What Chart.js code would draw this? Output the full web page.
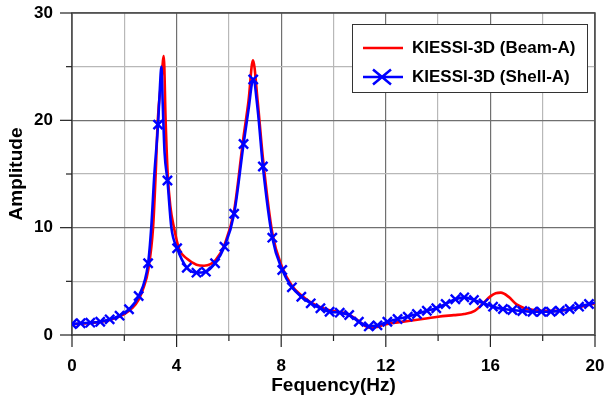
<!DOCTYPE html>
<html>
<head>
<meta charset="utf-8">
<script src="https://cdn.jsdelivr.net/npm/chart.js@4"></script>
<style>
  body { margin: 0; background: #fff; }
  #wrap { width: 604px; height: 398px; position: relative; }
</style>
</head>
<body>
<div id="wrap"><canvas id="chart"></canvas></div>
<script>
// Beam-A : curva continua (roja)
const beamFreq = [0, 0.5, 1.0, 1.5, 2.0, 2.3, 2.55, 2.75, 2.91, 3.10, 3.20, 3.28, 3.42, 3.51, 3.58, 3.66, 3.76, 3.90,
  4.10, 4.40, 4.76, 5.05, 5.30, 5.50, 5.83, 6.20, 6.55, 6.75, 6.92, 7.10, 7.30, 7.66, 8.04, 8.41, 8.77, 9.13, 9.50,
  9.85, 10.21, 10.58, 10.96, 11.20, 11.45, 11.70, 12.0, 13.0, 14.0, 14.6, 15.0, 15.4, 15.7, 16.0, 16.2, 16.4, 16.7,
  17.0, 17.3, 17.6, 18.0, 18.5, 19.0, 19.5, 20.0];
const beamAmp = [1.0, 1.08, 1.2, 1.45, 1.95, 2.5, 3.3, 4.5, 6.0, 10, 15, 20, 23.8, 26.0, 20, 15, 12, 10,
  8.0, 7.1, 6.55, 6.45, 6.6, 7.0, 8.4, 11.6, 18.3, 21.8, 25.6, 21.8, 16.5, 9.5, 6.3, 4.6, 3.7, 3.05, 2.6,
  2.3, 2.15, 1.92, 1.3, 0.85, 0.65, 0.78, 1.0, 1.35, 1.7, 1.85, 1.95, 2.25, 2.9, 3.6, 3.9, 3.95, 3.55,
  2.85, 2.5, 2.35, 2.25, 2.25, 2.4, 2.65, 2.95];

// Shell-A : puntos con marcador (azul)
const shellFreq = [0, 0.33, 0.70, 1.08, 1.44, 1.82, 2.18, 2.55, 2.91, 3.29, 3.65, 4.02, 4.39, 4.76, 5.12, 5.47,
  5.83, 6.20, 6.56, 6.93, 7.30, 7.66, 8.04, 8.41, 8.77, 9.13, 9.50, 9.85, 10.24, 10.60, 10.97, 11.35, 11.68,
  12.06, 12.45, 12.84, 13.19, 13.57, 13.93, 14.29, 14.66, 15.00, 15.37, 15.74, 16.10, 16.48, 16.84, 17.22,
  17.61, 17.95, 18.31, 18.65, 19.03, 19.39, 19.77];
const shellAmp = [1.02, 1.09, 1.15, 1.24, 1.46, 1.80, 2.40, 3.63, 6.68, 19.6, 14.4, 8.08, 6.27, 5.81, 5.90, 6.68,
  8.23, 11.3, 17.8, 23.8, 15.7, 9.07, 6.06, 4.44, 3.57, 2.95, 2.49, 2.17, 2.08, 1.86, 1.24, 0.80, 0.90,
  1.24, 1.49, 1.71, 1.96, 2.26, 2.49, 2.89, 3.33, 3.51, 3.26, 2.95, 2.64, 2.42, 2.33, 2.24,
  2.17, 2.17, 2.17, 2.26, 2.42, 2.64, 2.89];
// Shell-A : puntos de la curva sin marcador
const shellCurveFreq = [3.03, 3.15, 3.35, 3.42, 3.47, 3.54, 3.80, 6.75, 7.10, 20.0];
const shellCurveAmp = [10, 15, 22.5, 25.0, 21.5, 17.0, 10, 21.0, 21.0, 3.0];

const xLabels = [0, 4, 8, 12, 16, 20];
const yLabels = [0, 10, 20, 30];
const legendNames = ["KIESSI-3D (Beam-A)", "KIESSI-3D (Shell-A)"];

const fuente = { family: "'Liberation Sans', Arial, sans-serif", weight: "bold", size: 17 };

const beamData = beamFreq.map((x, i) => ({ x: x, y: beamAmp[i] }));
const shellData = shellFreq.map((x, i) => ({ x: x, y: shellAmp[i], m: true }))
  .concat(shellCurveFreq.map((x, i) => ({ x: x, y: shellCurveAmp[i], m: false })))
  .sort((a, b) => a.x - b.x);

// marco del area del grafico
const marco = {
  id: "marco",
  beforeDatasetsDraw(chart) {
    const { ctx, chartArea: a } = chart;
    ctx.save();
    ctx.strokeStyle = "#4a4a4a";
    ctx.lineWidth = 1.5;
    ctx.strokeRect(a.left, a.top, a.right - a.left, a.bottom - a.top);
    ctx.restore();
  },
  afterDraw(chart) {
    const { ctx, chartArea: a, scales } = chart;
    ctx.save();
    ctx.strokeStyle = "#222";
    ctx.lineWidth = 1.2;
    scales.x.ticks.forEach((t) => {
      const px = scales.x.getPixelForValue(t.value);
      const len = xLabels.includes(t.value) ? 12 : 6;
      ctx.beginPath();
      ctx.moveTo(px, a.bottom);
      ctx.lineTo(px, a.bottom + len);
      ctx.stroke();
    });
    scales.y.ticks.forEach((t) => {
      const py = scales.y.getPixelForValue(t.value);
      const len = yLabels.includes(t.value) ? 12 : 6;
      ctx.beginPath();
      ctx.moveTo(a.left - len, py);
      ctx.lineTo(a.left, py);
      ctx.stroke();
    });

    // leyenda
    const bx = a.right - 243, by = a.top + 11, bw = 235, bh = 68;
    ctx.fillStyle = "#fff";
    ctx.fillRect(bx, by, bw, bh);
    ctx.strokeStyle = "#333";
    ctx.lineWidth = 1;
    ctx.strokeRect(bx + 0.5, by + 0.5, bw, bh);
    const filas = [by + 24, by + 53];
    ctx.lineWidth = 2.5;
    ctx.strokeStyle = "#ff0000";
    ctx.beginPath();
    ctx.moveTo(bx + 11, filas[0]);
    ctx.lineTo(bx + 51, filas[0]);
    ctx.stroke();
    ctx.strokeStyle = "#0000ff";
    ctx.beginPath();
    ctx.moveTo(bx + 11, filas[1]);
    ctx.lineTo(bx + 51, filas[1]);
    ctx.moveTo(bx + 21, filas[1] - 7.5);
    ctx.lineTo(bx + 39, filas[1] + 7.5);
    ctx.moveTo(bx + 21, filas[1] + 7.5);
    ctx.lineTo(bx + 39, filas[1] - 7.5);
    ctx.stroke();
    ctx.fillStyle = "#000";
    ctx.font = "bold 17px 'Liberation Sans', Arial, sans-serif";
    ctx.textBaseline = "middle";
    ctx.textAlign = "left";
    ctx.fillText(legendNames[0], bx + 60, filas[0]);
    ctx.fillText(legendNames[1], bx + 60, filas[1]);
    ctx.restore();
  },
};

const canvas = document.getElementById("chart");
const chart = new Chart(canvas.getContext("2d"), {
  type: "line",
  data: {
    datasets: [
      {
        label: legendNames[1],
        data: shellData,
        borderColor: "#0000ff",
        backgroundColor: "#0000ff",
        borderWidth: 2.6,
        pointStyle: "crossRot",
        pointRadius: shellData.map((p) => (p.m ? 6.5 : 0)),
        pointBorderWidth: 2.4,
        pointHoverRadius: 0,
        cubicInterpolationMode: "monotone",
        order: 0,
      },
      {
        label: legendNames[0],
        data: beamData,
        borderColor: "#ff0000",
        backgroundColor: "#ff0000",
        borderWidth: 2.6,
        pointRadius: 0,
        cubicInterpolationMode: "monotone",
        order: 1,
      },
    ],
  },
  options: {
    responsive: true,
    maintainAspectRatio: false,
    animation: false,
    layout: { padding: { top: 13, right: 9 } },
    plugins: { legend: { display: false }, tooltip: { enabled: false } },
    scales: {
      x: {
        type: "linear",
        min: 0,
        max: 20,
        afterFit: (s) => {
          s.height = 63;
          s.paddingLeft = 0;
          s.paddingRight = 0;
        },
        ticks: {
          stepSize: 2,
          autoSkip: false,
          maxRotation: 0,
          padding: 21,
          color: "#000",
          font: fuente,
          callback: (v) => (xLabels.includes(v) ? v : ""),
        },
        grid: {
          drawTicks: false,
          lineWidth: 1.2,
          color: (c) => (xLabels.includes(c.tick.value) ? "#707070" : "#b8b8b8"),
        },
        border: { display: false },
        title: {
          display: true,
          text: "Fequency(Hz)",
          color: "#000",
          font: { family: fuente.family, weight: "bold", size: 19 },
          padding: { top: 0, bottom: 1 },
        },
      },
      y: {
        type: "linear",
        min: 0,
        max: 30,
        afterFit: (s) => {
          s.width = 72;
          s.paddingTop = 0;
          s.paddingBottom = 0;
        },
        ticks: {
          stepSize: 5,
          autoSkip: false,
          padding: 19,
          color: "#000",
          font: fuente,
          callback: (v) => (yLabels.includes(v) ? v : ""),
        },
        grid: {
          drawTicks: false,
          lineWidth: 1.2,
          color: (c) => (yLabels.includes(c.tick.value) ? "#707070" : "#b8b8b8"),
        },
        border: { display: false },
        title: {
          display: true,
          text: "Amplitude",
          color: "#000",
          font: { family: fuente.family, weight: "bold", size: 19 },
          padding: { top: 5, bottom: 0 },
        },
      },
    },
  },
  plugins: [marco],
});
</script>
</body>
</html>
